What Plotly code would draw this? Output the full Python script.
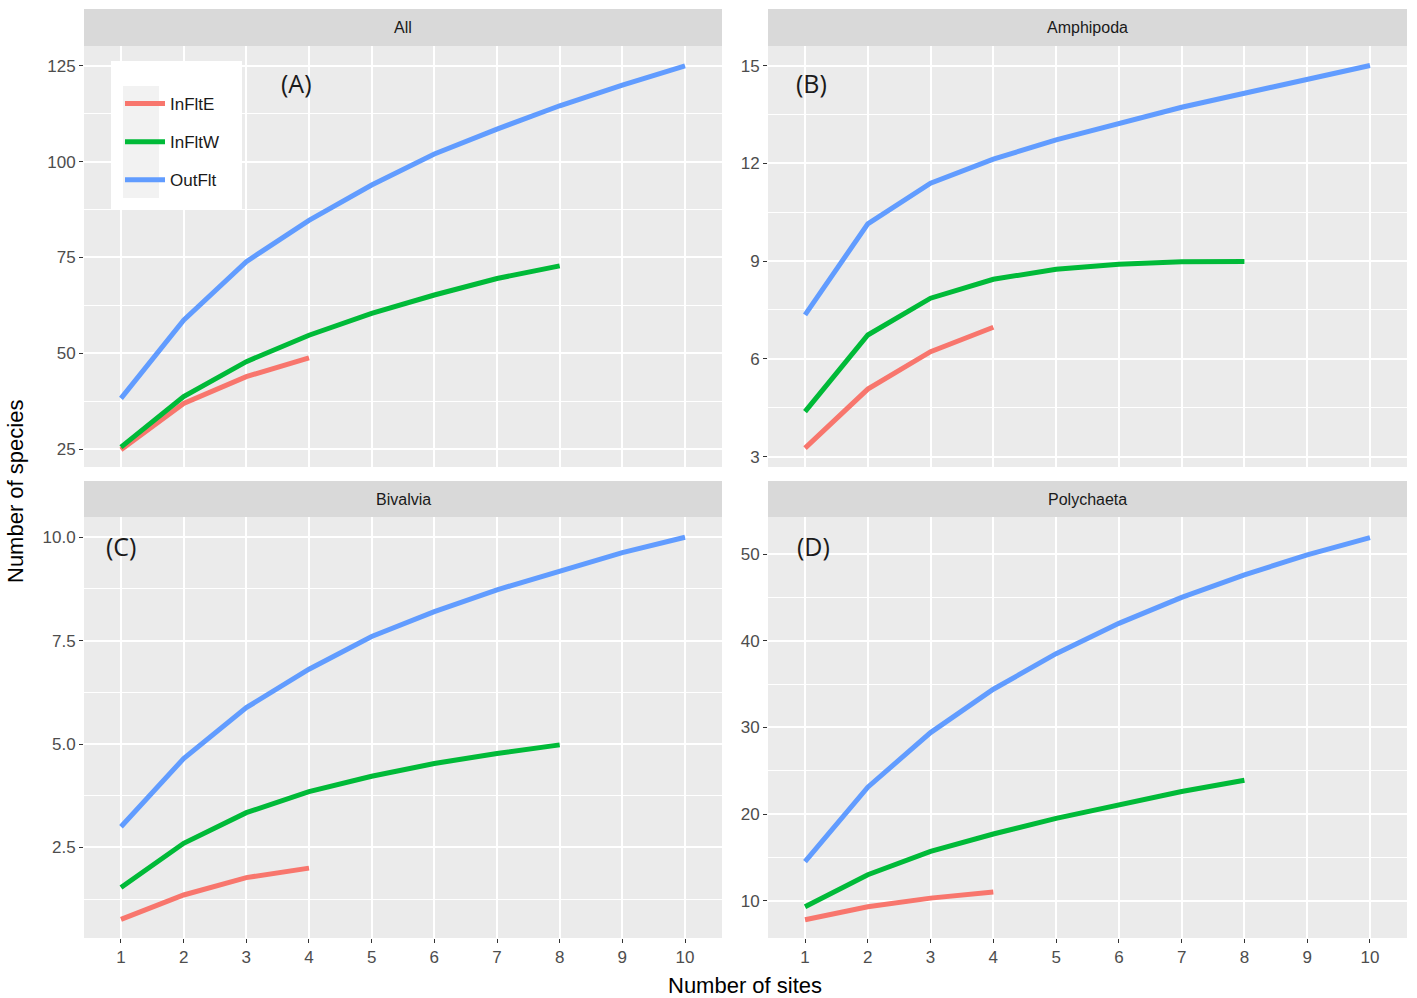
import plotly.graph_objects as go

# ---------------- data ----------------
sites = [1, 2, 3, 4, 5, 6, 7, 8, 9, 10]
panels = ["All", "Amphipoda", "Bivalvia", "Polychaeta"]
panel_tags = ["(A)", "(B)", "(C)", "(D)"]
groups = ["InFltE", "InFltW", "OutFlt"]
colors = {"InFltE": "#F8766D", "InFltW": "#00BA38", "OutFlt": "#619CFF"}

all_inflte = [24.8, 36.9, 43.9, 48.8]
all_infltw = [25.5, 38.7, 47.8, 54.7, 60.4, 65.2, 69.5, 72.8]
all_outflt = [38.2, 58.6, 73.9, 84.7, 93.9, 102.0, 108.5, 114.6, 120.0, 125.0]

amp_inflte = [3.26, 5.07, 6.22, 6.97]
amp_infltw = [4.38, 6.73, 7.86, 8.44, 8.75, 8.90, 8.98, 8.99]
amp_outflt = [7.35, 10.14, 11.39, 12.13, 12.72, 13.23, 13.72, 14.15, 14.58, 15.0]

biv_inflte = [0.76, 1.35, 1.77, 2.0]
biv_infltw = [1.53, 2.60, 3.34, 3.85, 4.22, 4.53, 4.77, 4.98]
biv_outflt = [3.0, 4.65, 5.88, 6.81, 7.60, 8.20, 8.73, 9.19, 9.63, 10.0]

pol_inflte = [7.8, 9.3, 10.3, 11.0]
pol_infltw = [9.3, 13.0, 15.7, 17.7, 19.5, 21.1, 22.6, 23.9]
pol_outflt = [14.5, 23.1, 29.4, 34.4, 38.5, 42.0, 45.0, 47.6, 49.9, 51.9]

y_ticks = [
    [25, 50, 75, 100, 125],
    [3, 6, 9, 12, 15],
    [2.5, 5.0, 7.5, 10.0],
    [10, 20, 30, 40, 50],
]
y_ticklabels = [
    ["25", "50", "75", "100", "125"],
    ["3", "6", "9", "12", "15"],
    ["2.5", "5.0", "7.5", "10.0"],
    ["10", "20", "30", "40", "50"],
]
series = [
    [all_inflte, all_infltw, all_outflt],
    [amp_inflte, amp_infltw, amp_outflt],
    [biv_inflte, biv_infltw, biv_outflt],
    [pol_inflte, pol_infltw, pol_outflt],
]

# ---------------- layout geometry ----------------
W, H = 1417, 998
def fx(px):
    return px / W
def fy(px):
    return 1 - px / H

col_px = [(84, 722), (768, 1407)]
row_px = [(46, 467), (517, 938)]
strip_px = [(9, 46), (481, 517)]
y_ranges = [[20.3, 130.2], [2.68, 15.6], [0.31, 10.49], [5.7, 54.27]]
y_minor = [12.5, 1.5, 1.25, 5]
x_range = [0.41, 10.59]

fig = go.Figure()
layout = dict(
    width=W, height=H,
    margin=dict(l=0, r=0, t=0, b=0),
    paper_bgcolor="white",
    plot_bgcolor="#EBEBEB",
    font=dict(family="Liberation Sans, Arial, sans-serif", color="#1A1A1A"),
    shapes=[], annotations=[],
)

tickfont = dict(family="Liberation Sans, Arial, sans-serif", size=17, color="#4D4D4D")

for i, name in enumerate(panels):
    r, c = divmod(i, 2)
    ax = "" if i == 0 else str(i + 1)
    x0, x1 = col_px[c]
    yt, yb = row_px[r]
    layout["xaxis" + ax] = dict(
        domain=[fx(x0), fx(x1)], anchor="y" + ax, range=x_range,
        tickvals=sites, ticktext=[str(s) for s in sites],
        showticklabels=(r == 1), ticks="outside" if r == 1 else "",
        ticklen=4, tickwidth=1.3, tickcolor="#333333", tickfont=tickfont,
        showgrid=True, gridcolor="white", gridwidth=2, zeroline=False,
        showline=False, fixedrange=True,
    )
    layout["yaxis" + ax] = dict(
        domain=[fy(yb), fy(yt)], anchor="x" + ax, range=y_ranges[i],
        tickvals=y_ticks[i], ticktext=y_ticklabels[i],
        ticks="outside", ticklen=4, tickwidth=1.3, tickcolor="#333333",
        tickfont=tickfont,
        showgrid=True, gridcolor="white", gridwidth=2, zeroline=False,
        minor=dict(showgrid=True, gridcolor="white", gridwidth=1.2,
                   tick0=y_ticks[i][0] - y_minor[i], dtick=2 * y_minor[i]),
        showline=False, fixedrange=True,
    )
    # strip
    sy0, sy1 = strip_px[r]
    layout["shapes"].append(dict(
        type="rect", xref="paper", yref="paper",
        x0=fx(x0), x1=fx(x1), y0=fy(sy1), y1=fy(sy0),
        fillcolor="#D9D9D9", line=dict(width=0), layer="below",
    ))
    layout["annotations"].append(dict(
        xref="paper", yref="paper", x=fx((x0 + x1) / 2), y=fy((sy0 + sy1) / 2),
        text=name, showarrow=False, xanchor="center", yanchor="middle",
        font=dict(size=16, color="#1A1A1A"),
    ))
    for g, vals in zip(groups, series[i]):
        fig.add_trace(go.Scatter(
            x=sites[:len(vals)], y=vals, mode="lines", name=g,
            line=dict(color=colors[g], width=5),
            xaxis="x" + ax, yaxis="y" + ax,
            showlegend=(i == 0), legendgroup=g,
        ))

# panel tags
tag_pos = [(296, 83), (811, 83), (121, 546), (813, 546)]
for tag, (px, py) in zip(panel_tags, tag_pos):
    layout["annotations"].append(dict(
        xref="paper", yref="paper", x=fx(px), y=fy(py), text=tag,
        showarrow=False, xanchor="center", yanchor="middle",
        font=dict(family="Open Sans, sans-serif", size=25, color="#1A1A1A"),
    ))

# axis titles
layout["annotations"].append(dict(
    xref="paper", yref="paper", x=fx(745), y=fy(985), text="Number of sites",
    showarrow=False, xanchor="center", yanchor="middle",
    font=dict(size=22, color="#000000"),
))
layout["annotations"].append(dict(
    xref="paper", yref="paper", x=fx(15), y=fy(492), text="Number of species",
    showarrow=False, xanchor="center", yanchor="middle", textangle=-90,
    font=dict(size=22, color="#000000"),
))

# legend box + key background
layout["shapes"].append(dict(
    type="rect", xref="paper", yref="paper",
    x0=fx(111), x1=fx(242), y0=fy(210), y1=fy(61),
    fillcolor="white", line=dict(width=0), layer="above",
))
layout["shapes"].append(dict(
    type="rect", xref="paper", yref="paper",
    x0=fx(123), x1=fx(159), y0=fy(198), y1=fy(86),
    fillcolor="#F2F2F2", line=dict(width=0), layer="above",
))
layout["legend"] = dict(
    x=fx(120), y=fy(86), xanchor="left", yanchor="top",
    bgcolor="rgba(0,0,0,0)", borderwidth=0,
    font=dict(size=17, color="#1A1A1A"),
    traceorder="grouped", tracegroupgap=13, itemwidth=40,
)

fig.update_layout(**layout)
fig.write_html(
    "out.html",
    config={"displayModeBar": False},
    post_script="document.body.style.margin='0';document.body.style.overflow='hidden';",
)
